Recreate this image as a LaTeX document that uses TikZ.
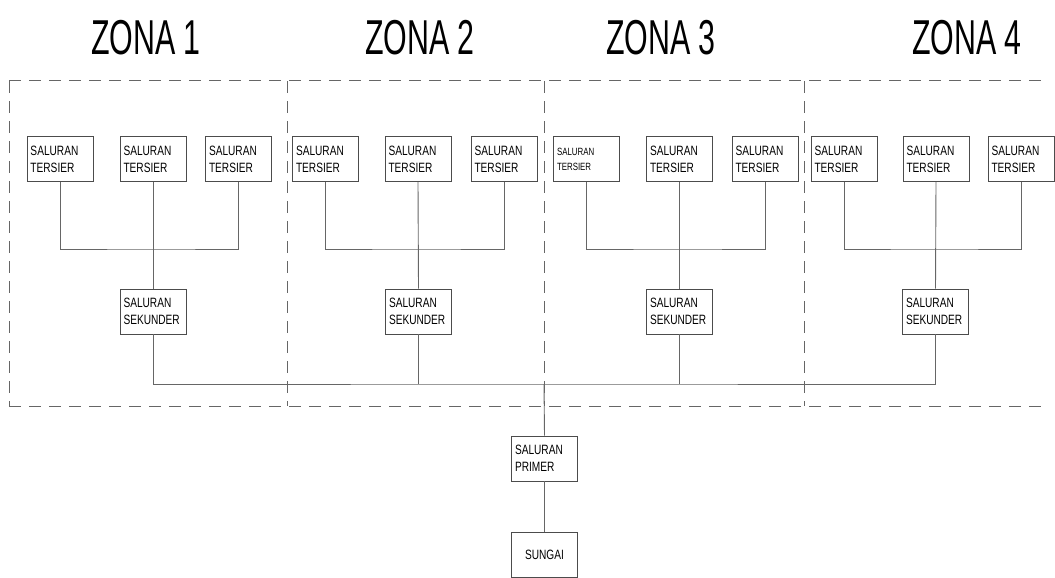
\documentclass[tikz,border=0pt]{standalone}
\usepackage{fontspec}
\setmainfont{Liberation Sans}
\newfontfamily\boxfont[FakeStretch=0.75]{Liberation Sans}
\newfontfamily\titlefont[FakeStretch=0.62]{Liberation Sans}
\begin{document}
\begin{tikzpicture}[x=1pt,y=-1pt,
  box/.style={draw=black!70, line width=0.9pt, minimum width=66pt, minimum height=45pt,
    inner xsep=3.5pt, inner ysep=0pt, text width=59pt, align=left,
    font=\boxfont\fontsize{13.5}{17}\selectfont},
  smallbox/.style={box, font=\boxfont\fontsize{10.5}{15}\selectfont},
  conn/.style={draw=black!60, line width=0.9pt},
  zoneline/.style={draw=black!60, line width=1pt, dash pattern=on 12pt off 8pt},
  title/.style={font=\titlefont\fontsize{49}{49}\selectfont, inner sep=0pt}]
\useasboundingbox (0,0) rectangle (1055,578);

% titles
\node[title] (z1) at (146,38) {ZONA 1};
\node[title] (z2) at (420,38) {ZONA 2};
\node[title] (z3) at (661,38) {ZONA 3};
\node[title] (z4) at (967,38) {ZONA 4};

% zone frames
\draw[zoneline] (9,81) -- (1045,81);
\draw[zoneline] (9,406) -- (1045,406);
\draw[zoneline] (9,81) -- (9,406);
\draw[zoneline] (287,81) -- (287,406);
\draw[zoneline] (544,81) -- (544,406);
\draw[zoneline] (804,81) -- (804,406);

% tersier boxes
\node[box] (t11) at (60,159) {SALURAN\\TERSIER};
\node[box] (t12) at (153,159) {SALURAN\\TERSIER};
\node[box] (t13) at (238.5,159) {SALURAN\\TERSIER};
\node[box] (t21) at (325.5,159) {SALURAN\\TERSIER};
\node[box] (t22) at (418,159) {SALURAN\\TERSIER};
\node[box] (t23) at (504,159) {SALURAN\\TERSIER};
\node[smallbox] (t31) at (586.5,159) {SALURAN\\TERSIER};
\node[box] (t32) at (679.5,159) {SALURAN\\TERSIER};
\node[box] (t33) at (765,159) {SALURAN\\TERSIER};
\node[box] (t41) at (844,159) {SALURAN\\TERSIER};
\node[box] (t42) at (936,159) {SALURAN\\TERSIER};
\node[box] (t43) at (1021,159) {SALURAN\\TERSIER};

% sekunder boxes
\node[box] (s1) at (153,311.5) {SALURAN\\SEKUNDER};
\node[box] (s2) at (418.5,311.5) {SALURAN\\SEKUNDER};
\node[box] (s3) at (679.5,311.5) {SALURAN\\SEKUNDER};
\node[box] (s4) at (935.5,311.5) {SALURAN\\SEKUNDER};

% primer and sungai
\node[box] (p) at (544.5,458.5) {SALURAN\\PRIMER};
\node[box, align=center] (sg) at (544.5,555) {SUNGAI};

% tersier buses
\coordinate (b1) at (153,249);
\coordinate (b2) at (418,249);
\coordinate (b3) at (679.5,249);
\coordinate (b4) at (936,249);
\coordinate (m) at (544,384);

\draw[conn] (t11.south) |- (b1) -| (t13.south);
\draw[conn] (t12.south) -- (s1.north);
\draw[conn] (t21.south) |- (b2) -| (t23.south);
\draw[conn] (t22.south) -- (s2.north);
\draw[conn] (t31.south) |- (b3) -| (t33.south);
\draw[conn] (t32.south) -- (s3.north);
\draw[conn] (t41.south) |- (b4) -| (t43.south);
\draw[conn] (t42.south) -- (s4.north);

% main bus
\draw[conn] (s1.south) |- (m) -| (s4.south);
\draw[conn] (s2.south) -- (s2.south |- m);
\draw[conn] (s3.south) -- (s3.south |- m);
\draw[conn] (m) -- (p.north);
\draw[conn] (p.south) -- (sg.north);
\end{tikzpicture}
\end{document}
